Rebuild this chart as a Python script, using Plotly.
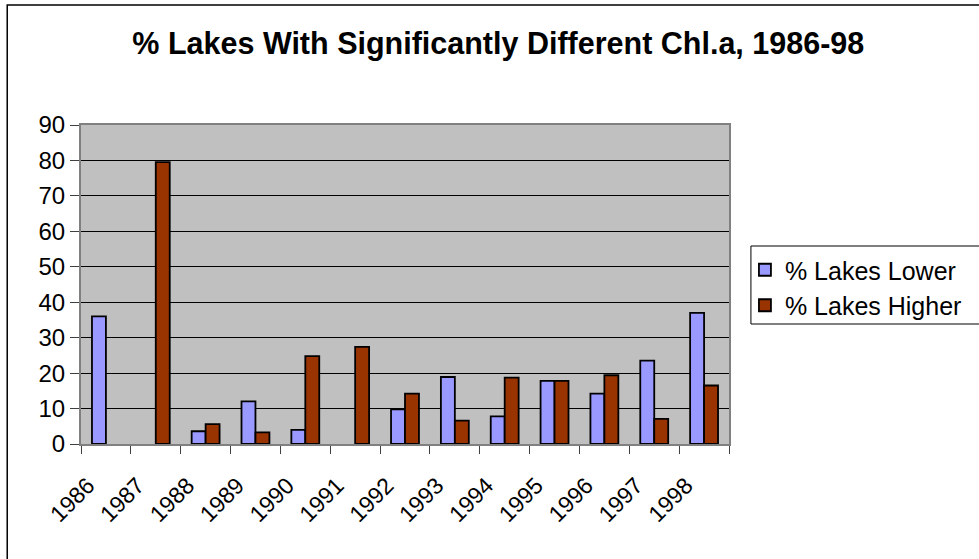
import plotly.graph_objects as go

# Percentage of lakes with significantly lower / higher chlorophyll-a, by year
years = ["1986", "1987", "1988", "1989", "1990", "1991", "1992",
         "1993", "1994", "1995", "1996", "1997", "1998"]
pct_lower = [36, None, 3.6, 12, 4, None, 9.8, 18.9, 7.8, 17.8, 14.2, 23.5, 37]
pct_higher = [None, 79.5, 5.6, 3.3, 24.8, 27.4, 14.2, 6.6, 18.7, 17.8, 19.4, 7.1, 16.5]
y_ticks = [0, 10, 20, 30, 40, 50, 60, 70, 80, 90]

W, H = 979, 559
L, R, T, B = 81, 731, 125, 444          # plot-area edges in pixels
FONT = "Arial, Liberation Sans, sans-serif"


def px_x(p):
    return (p - L) / (R - L)


def px_y(p):
    return (B - p) / (B - T)


fig = go.Figure()
fig.add_trace(go.Bar(
    x=years, y=pct_lower, name="% Lakes Lower", legendgroup="a",
    marker=dict(color="#9999FF", line=dict(color="black", width=1.8)),
))
fig.add_trace(go.Bar(
    x=years, y=pct_higher, name="% Lakes Higher", legendgroup="b",
    marker=dict(color="#993300", line=dict(color="black", width=1.8)),
))

fig.update_layout(
    width=W, height=H,
    margin=dict(l=L, r=W - R, t=T, b=H - B, pad=0),
    paper_bgcolor="white",
    plot_bgcolor="#C0C0C0",
    barmode="group",
    bargap=0.44,
    bargroupgap=0,
    font=dict(family=FONT, color="black", size=23),
    title=dict(
        text="<b>% Lakes With Significantly Different Chl.a, 1986-98</b>",
        font=dict(family=FONT, size=30.5, color="black"),
        x=0.509, xanchor="center", xref="container",
        y=1 - 43 / H, yanchor="middle", yref="container",
    ),
    legend=dict(
        x=px_x(753), xanchor="left",
        y=px_y(247), yanchor="top",
        bgcolor="rgba(0,0,0,0)", borderwidth=0,
        font=dict(family=FONT, size=25, color="black"),
        traceorder="grouped", tracegroupgap=0,
        indentation=-6,
    ),
    xaxis=dict(
        type="category",
        tickangle=-45,
        tickson="boundaries",
        ticks="outside", ticklen=8, tickcolor="#404040", tickwidth=1,
        showline=True, linecolor="#808080", linewidth=2, mirror=True,
        showgrid=False,
        ticklabelstandoff=17, ticklabelshift=-18,
        tickfont=dict(family=FONT, size=23),
    ),
    yaxis=dict(
        range=[0, 90],
        tickvals=y_ticks,
        ticks="outside", ticklen=9, tickcolor="#404040", tickwidth=1,
        showline=True, linecolor="#808080", linewidth=2, mirror=True,
        showgrid=True, gridcolor="black", gridwidth=1,
        zeroline=False,
        tickfont=dict(family=FONT, size=24),
    ),
    shapes=[
        # outer chart frame
        dict(type="rect", xref="paper", yref="paper",
             x0=px_x(7), x1=px_x(990), y0=px_y(570), y1=px_y(5),
             line=dict(color="black", width=1.5), fillcolor="rgba(0,0,0,0)",
             layer="below"),
        # legend frame, running past the right edge of the chart
        dict(type="rect", xref="paper", yref="paper",
             x0=px_x(753), x1=px_x(995), y0=px_y(324), y1=px_y(246),
             line=dict(color="black", width=1), fillcolor="white",
             layer="above"),
    ],
)

fig.write_html("out.html")
